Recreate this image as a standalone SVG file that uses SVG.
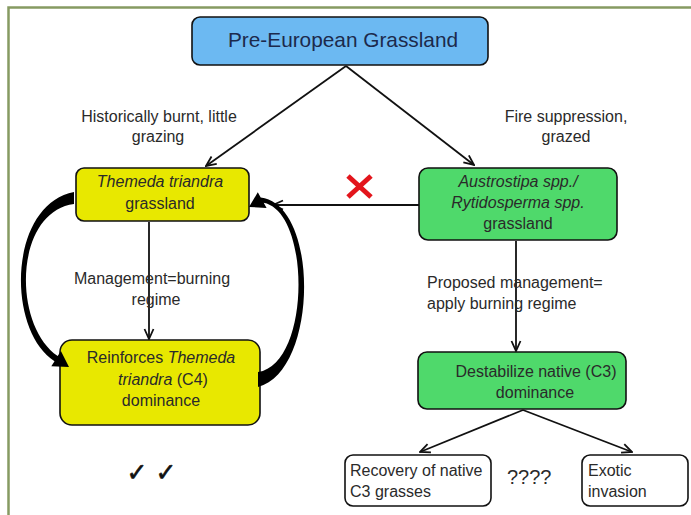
<svg xmlns="http://www.w3.org/2000/svg" width="691" height="515" viewBox="0 0 691 515">
<style>
text{font-family:"Liberation Sans",Arial,sans-serif;fill:#2a2a2a;font-size:16px}
.c{text-anchor:middle}
.i{font-style:italic}
.box{stroke:#111;stroke-width:1.6}
.yl{fill:#e8e800}
.gr{fill:#4fd96b}
.wh{fill:#fff}
.ln{stroke:#111;stroke-width:1.8;fill:none;marker-end:url(#ah)}
.chk{font-family:"DejaVu Sans",sans-serif;font-size:25px;fill:#111;stroke:#111;stroke-width:0.6}
</style>
<defs>
<marker id="ah" viewBox="0 0 12 12" refX="11" refY="6" markerWidth="12" markerHeight="12" markerUnits="userSpaceOnUse" orient="auto">
<path d="M1,1.5 L11,6 L1,10.5" fill="none" stroke="#111" stroke-width="1.8"/>
</marker>
</defs>
<rect width="691" height="515" fill="#fff"/>
<path d="M8.5,515 V7.5 H691" fill="none" stroke="#869a62" stroke-width="2.5"/>

<g id="connectors">
<line class="ln" x1="346" y1="66" x2="206" y2="166"/>
<line class="ln" x1="346" y1="66" x2="474" y2="165"/>
<line class="ln" x1="149" y1="222" x2="149" y2="339"/>
<line class="ln" x1="419" y1="205" x2="273" y2="205"/>
<line class="ln" x1="516" y1="241" x2="516" y2="351"/>
<line class="ln" x1="523" y1="410" x2="420" y2="452"/>
<line class="ln" x1="523" y1="410" x2="632" y2="452"/>
</g>

<g id="pre-european">
<rect class="box" x="192" y="17" width="296" height="48" rx="8" fill="#6cb9f2"/>
<text class="c" x="343" y="47" style="font-size:20.8px;fill:#1c2a4c">Pre-European Grassland</text>
</g>

<g id="label-historic">
<text class="c" x="159" y="122">Historically burnt, little</text>
<text class="c" x="158" y="142">grazing</text>
</g>
<g id="label-fire">
<text class="c" x="566" y="122">Fire suppression,</text>
<text class="c" x="566" y="142">grazed</text>
</g>

<g id="themeda">
<rect class="box yl" x="76" y="168" width="173" height="53" rx="8"/>
<text class="c i" x="160" y="187">Themeda triandra</text>
<text class="c" x="160" y="209">grassland</text>
</g>

<g id="austrostipa">
<rect class="box gr" x="419" y="168" width="198" height="72" rx="9"/>
<text class="c i" x="518" y="187">Austrostipa spp./</text>
<text class="c i" x="518" y="208">Rytidosperma spp.</text>
<text class="c" x="518" y="229">grassland</text>
</g>

<g id="red-x">
<path d="M348,176 L371,197 M371,176 L348,197" stroke="#e3151c" stroke-width="5" fill="none"/>
</g>

<g id="label-management">
<text class="c" x="152" y="284">Management=burning</text>
<text class="c" x="156" y="305">regime</text>
</g>

<g id="label-proposed">
<text x="427" y="288">Proposed management=</text>
<text x="427" y="309">apply burning regime</text>
</g>

<g id="reinforces">
<rect class="box yl" x="60" y="340" width="200" height="85" rx="12"/>
<text class="c" x="161" y="363">Reinforces <tspan class="i">Themeda</tspan></text>
<text class="c" x="163" y="385"><tspan class="i">triandra</tspan> (C4)</text>
<text class="c" x="161" y="406">dominance</text>
</g>

<g id="feedback-arrows">
<path d="M74,192 C8,205 6,330 54.5,361.2 L51.3,366.3 L69,367 L60.9,350.9 L57.7,356.1 C12,325 14,212 74,204 Z" fill="#000"/>
<path d="M258,387 C318,372 320,205 260.7,197.5 L257.8,192.3 L249,207 L266.6,207.9 L263.7,202.7 C311,212 311,364 258,372 Z" fill="#000"/>
</g>

<g id="destabilize">
<rect class="box gr" x="418" y="352" width="208" height="57" rx="9"/>
<text class="c" x="536" y="377">Destabilize native (C3)</text>
<text class="c" x="535" y="398">dominance</text>
</g>

<g id="recovery">
<rect class="box wh" x="345" y="455" width="146" height="51" rx="8"/>
<text x="350" y="476">Recovery of native</text>
<text x="350" y="497">C3 grasses</text>
</g>

<g id="unknown">
<text x="507" y="484" style="font-size:20px">????</text>
</g>

<g id="exotic">
<rect class="box wh" x="582" y="455" width="106" height="51" rx="8"/>
<text x="588" y="476">Exotic</text>
<text x="588" y="497">invasion</text>
</g>

<g id="checks">
<text class="c chk" x="137" y="481">✓</text>
<text class="c chk" x="166" y="481">✓</text>
</g>
</svg>
